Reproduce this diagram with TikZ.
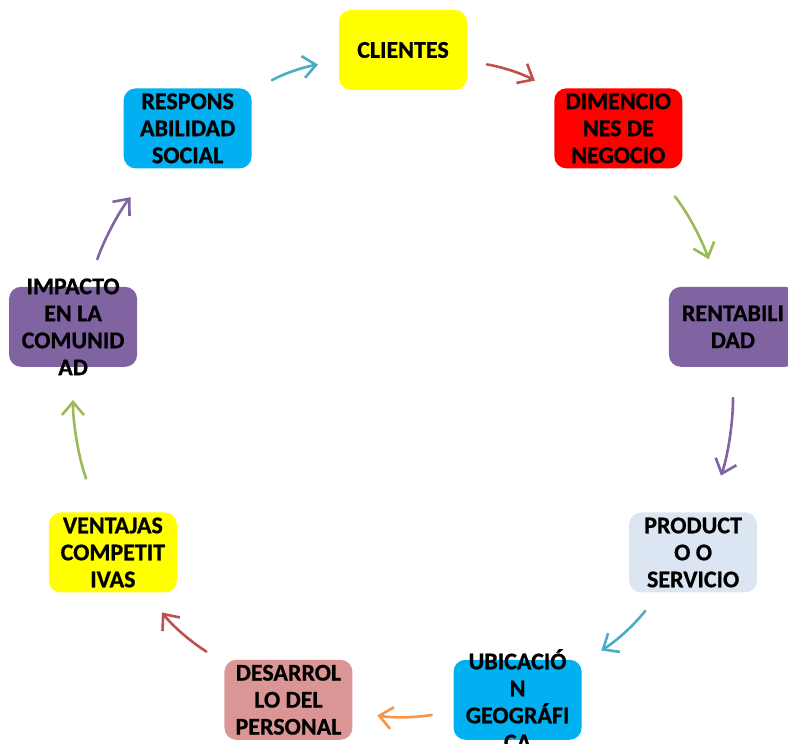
\documentclass[tikz,border=0pt]{standalone}
\usepackage{fontspec}
\setmainfont[BoldFeatures={FakeBold=0.8}]{Carlito}
\usepackage{xcolor}
\usepackage{tikz}
\usetikzlibrary{arrows.meta,calc}
\definecolor{fillyel}{HTML}{FFFF00}
\definecolor{fillred}{HTML}{FF0000}
\definecolor{fillpur}{HTML}{8064A2}
\definecolor{fillpale}{HTML}{DCE6F2}
\definecolor{fillcya}{HTML}{00B0F0}
\definecolor{fillpink}{HTML}{D99694}
\definecolor{arcya}{HTML}{4BACC6}
\definecolor{arred}{HTML}{C0504D}
\definecolor{argrn}{HTML}{9BBB59}
\definecolor{arpur}{HTML}{8064A2}
\definecolor{arora}{HTML}{F79646}
\tikzset{
  cycbox/.style ={rectangle, rounded corners=12pt, minimum width=128pt,
                  minimum height=80pt, inner sep=0pt},
  cyctext/.style={align=center, inner sep=0pt,
                  font=\fontsize{24}{27}\selectfont\bfseries},
  cycflow/.style={-{Straight Barb[length=13pt,width=22pt]}, line width=2.6pt,
                  line cap=round}
}

\begin{document}
\begin{tikzpicture}[x=1pt, y=1pt]
  \useasboundingbox (0,0) rectangle (788,744);
  \coordinate (c) at (403,359);
  \node[cycbox, fill=fillyel,  label={[cyctext]center:CLIENTES}]
       (cli)  at ($(c)+(90:335)$)   {};
  \node[cycbox, fill=fillred,  label={[cyctext]center:{DIMENCIO\\NES DE\\NEGOCIO}}]
       (dim)  at ($(c)+(50:335)$)   {};
  \node[cycbox, fill=fillpur,  label={[cyctext]center:{RENTABILI\\DAD}}]
       (rent) at ($(c)+(10:335)$)   {};
  \node[cycbox, fill=fillpale, label={[cyctext]center:{PRODUCT\\O O\\SERVICIO}}]
       (prod) at ($(c)+(-30:335)$)  {};
  \node[cycbox, fill=fillcya,  label={[cyctext]center:{UBICACIÓ\\N\\GEOGRÁFI\\CA}}]
       (ubic) at ($(c)+(-70:335)$)  {};
  \node[cycbox, fill=fillpink, label={[cyctext]center:{DESARROL\\LO DEL\\PERSONAL}}]
       (des)  at ($(c)+(-110:335)$) {};
  \node[cycbox, fill=fillyel,  label={[cyctext]center:{VENTAJAS\\COMPETIT\\IVAS}}]
       (vent) at ($(c)+(-150:335)$) {};
  \node[cycbox, fill=fillpur,  label={[cyctext]center:{IMPACTO\\EN LA\\COMUNID\\AD}}]
       (imp)  at ($(c)+(170:335)$)  {};
  \node[cycbox, fill=fillcya,  label={[cyctext]center:{RESPONS\\ABILIDAD\\SOCIAL}}]
       (resp) at ($(c)+(130:335)$)  {};
  % arrows round the cycle
  \draw[cycflow, arcya, shorten <=23pt, shorten >=21pt] (resp) to[bend left=10] (cli);
  \draw[cycflow, arred, shorten <=20pt, shorten >=22pt] (cli)  to[bend left=10] (dim);
  \draw[cycflow, argrn, shorten <=36pt, shorten >=29pt] (dim)  to[bend left=10] (rent);
  \draw[cycflow, arpur, shorten <=31pt, shorten >=39pt] (rent) to[bend left=10] (prod);
  \draw[cycflow, arcya, shorten <=23pt, shorten >=23pt] (prod) to[bend left=10] (ubic);
  \draw[cycflow, arora, shorten <=22pt, shorten >=25pt] (ubic) to[bend left=10] (des);
  \draw[cycflow, arred, shorten <=21pt, shorten >=25pt] (des)  to[bend left=10] (vent);
  \draw[cycflow, argrn, shorten <=36pt, shorten >=33pt] (vent) to[bend left=10] (imp);
  \draw[cycflow, arpur, shorten <=29pt, shorten >=37pt] (imp)  to[bend left=10] (resp);
\end{tikzpicture}
\end{document}
